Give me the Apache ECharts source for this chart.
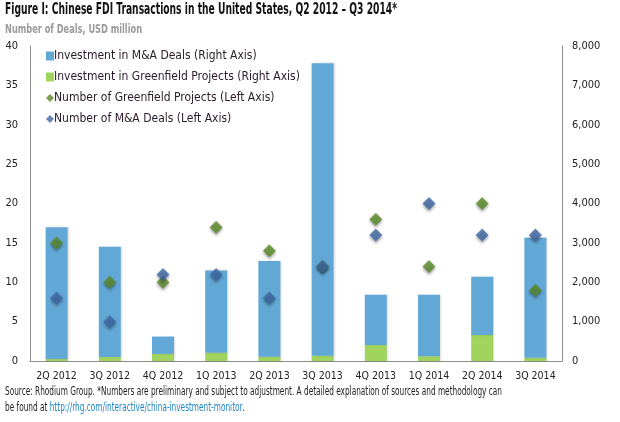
<!DOCTYPE html>
<html><head><meta charset="utf-8">
<script src="https://cdn.jsdelivr.net/npm/echarts@6/dist/echarts.min.js"></script>
<style>html,body{margin:0;padding:0;background:#fff}#c{width:620px;height:422px}</style>
</head><body><div id="c"></div>
<script>
const categories = ['2Q 2012','3Q 2012','4Q 2012','1Q 2013','2Q 2013','3Q 2013','4Q 2013','1Q 2014','2Q 2014','3Q 2014'];
const totalInvestment = [3400, 2900, 620, 2300, 2540, 7560, 1680, 1680, 2140, 3130];
const greenfieldInvestment = [50, 100, 180, 210, 110, 135, 405, 120, 660, 80];
const maInvestment = totalInvestment.map((t, i) => t - greenfieldInvestment[i]);
const greenfieldCount = [15, 10, 10, 17, 14, 12, 18, 12, 20, 9];
const maCount = [8, 5, 11, 11, 8, 12, 16, 20, 16, 16];
const leftTicks = {min: 0, max: 40, interval: 5};
const rightTicks = {min: 0, max: 8000, interval: 1000};

const FONT = "'Liberation Sans Narrow','DejaVu Sans Condensed','Roboto',sans-serif";
const diamond = 'path://M5,0 L10,5 L5,10 L0,5 Z';
const mctx = document.createElement('canvas').getContext('2d');
function fitScale(text, font, target) {
  mctx.font = font;
  return target / mctx.measureText(text).width;
}
const titleText = 'Figure I: Chinese FDI Transactions in the United States, Q2 2012 \u2013 Q3 2014*';
const subText = 'Number of Deals, USD million';
const foot1 = 'Source: Rhodium Group. *Numbers are preliminary and subject to adjustment. A detailed explanation of sources and methodology can';
const foot2a = 'be found at ', foot2b = 'http://rhg.com/interactive/china-investment-monitor', foot2c = '.';
const titleFont = 'bold 16.5px ' + FONT;
const subFont = 'bold 13px ' + FONT;
const footFont = '12px ' + FONT;
const sTitle = fitScale(titleText, titleFont, 392);
const sSub = fitScale(subText, subFont, 137);
const sFoot = fitScale(foot1, footFont, 497);

const chart = echarts.init(document.getElementById('c'), null, {renderer: 'canvas'});
const axisLine = {show: true, lineStyle: {color: '#8c8c8c', width: 1}};
chart.setOption({
  animation: false,
  textStyle: {fontFamily: FONT},
  legend: {
    orient: 'vertical', left: 41, top: 45, itemGap: 9, itemWidth: 8, itemHeight: 9,
    textStyle: {fontFamily: FONT, fontSize: 12, color: '#2a1a2a', padding: [0, 0, 0, -5]},
    data: [
      {name: 'Investment in M&A Deals (Right Axis)', icon: 'rect'},
      {name: 'Investment in Greenfield Projects (Right Axis)', icon: 'rect'},
      {name: 'Number of Greenfield Projects (Left Axis)', icon: diamond},
      {name: 'Number of M&A Deals (Left Axis)', icon: diamond}
    ]
  },
  grid: {left: 30, right: 58, top: 46, bottom: 61},
  xAxis: {
    type: 'category', data: categories,
    axisLine: axisLine, axisTick: {show: false},
    axisLabel: {interval: 0, fontFamily: FONT, fontSize: 10.5, color: '#222', margin: 10}
  },
  yAxis: [
    {type: 'value', min: leftTicks.min, max: leftTicks.max, interval: leftTicks.interval,
     axisLine: axisLine, axisTick: {show: false}, splitLine: {show: false},
     axisLabel: {fontFamily: FONT, fontSize: 11, color: '#222', margin: 12}},
    {type: 'value', min: rightTicks.min, max: rightTicks.max, interval: rightTicks.interval,
     position: 'right', axisLine: axisLine, axisTick: {show: false}, splitLine: {show: false},
     axisLabel: {fontFamily: FONT, fontSize: 11, color: '#222', margin: 10,
       formatter: v => v.toLocaleString('en-US')}}
  ],
  series: [
    {name: 'Investment in Greenfield Projects (Right Axis)', type: 'bar', stack: 'inv', yAxisIndex: 1,
     data: greenfieldInvestment, barWidth: 22,
     itemStyle: {color: '#a0d45e', shadowBlur: 2, shadowColor: 'rgba(0,0,0,0.15)', shadowOffsetX: 1}},
    {name: 'Investment in M&A Deals (Right Axis)', type: 'bar', stack: 'inv', yAxisIndex: 1,
     data: maInvestment, barWidth: 22,
     itemStyle: {color: '#62a8d6', shadowBlur: 2, shadowColor: 'rgba(0,0,0,0.15)', shadowOffsetX: 1}},
    {name: 'Number of Greenfield Projects (Left Axis)', type: 'scatter', yAxisIndex: 0,
     data: greenfieldCount, symbol: diamond, symbolSize: 13,
     itemStyle: {color: '#5a8a28', shadowBlur: 3, shadowColor: 'rgba(0,0,0,0.45)', shadowOffsetY: 2}},
    {name: 'Number of M&A Deals (Left Axis)', type: 'scatter', yAxisIndex: 0,
     data: maCount, symbol: diamond, symbolSize: 13,
     itemStyle: {color: '#3e68a4', shadowBlur: 3, shadowColor: 'rgba(0,0,0,0.45)', shadowOffsetY: 2}}
  ],
  graphic: [
    {type: 'text', x: 5, y: 1, scaleX: sTitle, style: {text: titleText, font: titleFont, fill: '#111'}},
    {type: 'text', x: 5, y: 23, scaleX: sSub, style: {text: subText, font: subFont, fill: '#9a9a9a'}},
    {type: 'text', x: 5, y: 386, scaleX: sFoot, style: {text: foot1, font: footFont, fill: '#222'}},
    {type: 'text', x: 5, y: 402, scaleX: sFoot, style: {
      text: '{a|' + foot2a + '}{b|' + foot2b + '}{a|' + foot2c + '}',
      font: footFont,
      rich: {a: {fill: '#222', font: footFont}, b: {fill: '#1f84c6', font: footFont}}}}
  ]
});
</script></body></html>
